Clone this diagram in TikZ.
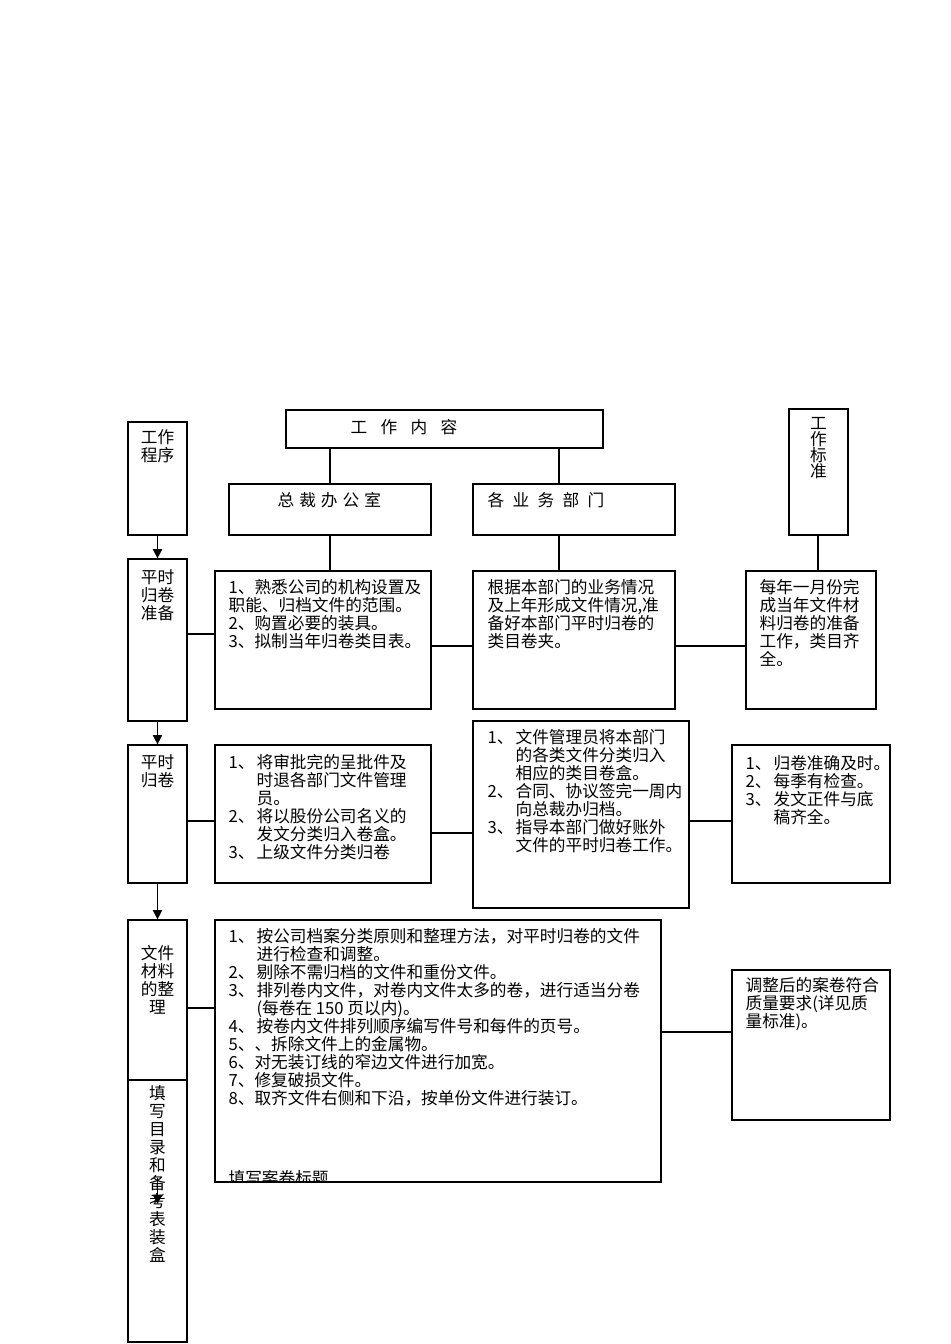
\documentclass[tikz,border=0pt]{standalone}
\usepackage{fontspec}
\setmainfont{Noto Sans CJK SC}
\usetikzlibrary{arrows.meta,fit}
\tikzset{frame/.style={draw,line width=0.9pt,inner sep=0pt}}
\tikzset{txt/.style={anchor=north west,inner sep=0pt,align=left,font=\fontsize{12.5pt}{13.5pt}\selectfont}}
\tikzset{vtxt/.style={anchor=north,inner sep=0pt,align=center,font=\fontsize{12.5pt}{13.5pt}\selectfont}}
\tikzset{flow/.style={line width=0.9pt,-{Triangle[length=7pt,width=7pt]}}}
\newcommand{\num}[1]{\makebox[21pt][l]{#1}}
\newcommand{\ind}{\hspace*{21pt}}

\begin{document}
\begin{tikzpicture}[x=0.75pt,y=-0.75pt,line width=0.9pt]
	\useasboundingbox (0,0) rectangle (950,1344);
	% boxes
	\node[frame,fit={(128,422) (187,535)}] (proc) {};
	\node[frame,fit={(286,410) (603,448)}] (content) {};
	\node[frame,fit={(229,484) (431,535)}] (office) {};
	\node[frame,fit={(473,484) (675,535)}] (dept) {};
	\node[frame,fit={(789,409) (848,535)}] (std) {};
	\node[frame,fit={(128,559) (187,721)}] (prep) {};
	\node[frame,fit={(215,571) (431,709)}] (a1) {};
	\node[frame,fit={(473,571) (675,709)}] (b1) {};
	\node[frame,fit={(746,571) (876,709)}] (c1) {};
	\node[frame,fit={(128,745) (187,883)}] (reg) {};
	\node[frame,fit={(215,745) (431,883)}] (a2) {};
	\node[frame,fit={(473,721) (689,908)}] (b2) {};
	\node[frame,fit={(732,745) (890,883)}] (c2) {};
	\node[frame,fit={(128,920) (187,1080)}] (sort) {};
	\node[frame,fit={(128,1080) (187,1342)}] (fill) {};
	\node[frame,fit={(215,920) (661,1182)}] (d3) {};
	\node[frame,fit={(732,970) (890,1120)}] (e3) {};
	% texts
	\node[vtxt] (proct) at (157.5,429) {工作\\程序};
	\node[txt] (contentt) at (350,419) {工\hspace{0.8em}作\hspace{0.8em}内\hspace{0.8em}容};
	\node[txt] (officet) at (277,492) {总\hspace{0.3em}裁\hspace{0.3em}办\hspace{0.3em}公\hspace{0.3em}室};
	\node[txt] (deptt) at (487,492) {各\hspace{0.5em}业\hspace{0.5em}务\hspace{0.5em}部\hspace{0.5em}门};
	\node[vtxt,font=\fontsize{12.5pt}{12pt}\selectfont] (stdt) at (818.5,417) {工\\作\\标\\准};
	\node[vtxt] (prept) at (157.5,569) {平时\\归卷\\准备};
	\node[txt] (a1t) at (228,579) {1、熟悉公司的机构设置及\\职能、归档文件的范围。\\2、购置必要的装具。\\3、拟制当年归卷类目表。};
	\node[txt] (b1t) at (487,579) {根据本部门的业务情况\\及上年形成文件情况,准\\备好本部门平时归卷的\\类目卷夹。};
	\node[txt] (c1t) at (759,579) {每年一月份完\\成当年文件材\\料归卷的准备\\工作，类目齐\\全。};
	\node[vtxt] (regt) at (157.5,754) {平时\\归卷};
	\node[txt] (a2t) at (228,754) {\num{1、}将审批完的呈批件及\\\ind 时退各部门文件管理\\\ind 员。\\\num{2、}将以股份公司名义的\\\ind 发文分类归入卷盒。\\\num{3、}上级文件分类归卷};
	\node[txt] (b2t) at (487,729) {\num{1、}文件管理员将本部门\\\ind 的各类文件分类归入\\\ind 相应的类目卷盒。\\\num{2、}合同、协议签完一周内\\\ind 向总裁办归档。\\\num{3、}指导本部门做好账外\\\ind 文件的平时归卷工作。};
	\node[txt] (c2t) at (745,755) {\num{1、}归卷准确及时。\\\num{2、}每季有检查。\\\num{3、}发文正件与底\\\ind 稿齐全。};
	\node[vtxt] (sortt) at (157.5,945) {文件\\材料\\的整\\理};
	\node[vtxt] (fillt) at (157.5,1085) {填\\写\\目\\录\\和\\备\\考\\表\\装\\盒};
	\node[txt] (d3t) at (228,928) {\num{1、}按公司档案分类原则和整理方法，对平时归卷的文件\\\ind 进行检查和调整。\\\num{2、}剔除不需归档的文件和重份文件。\\\num{3、}排列卷内文件，对卷内文件太多的卷，进行适当分卷\\\ind (每卷在 150 页以内)。\\\num{4、}按卷内文件排列顺序编写件号和每件的页号。\\5、、拆除文件上的金属物。\\6、对无装订线的窄边文件进行加宽。\\7、修复破损文件。\\8、取齐文件右侧和下沿，按单份文件进行装订。};
	\begin{scope}
		\clip (d3.north west) rectangle (d3.south east);
		\node[txt] (titlet) at (228,1170) {填写案卷标题};
	\end{scope}
	\node[txt] (e3t) at (745,977) {调整后的案卷符合\\质量要求(详见质\\量标准)。};
	% connectors
	\draw (office.north) -- (office.north |- content.south);
	\draw (dept.north -| 559,0) -- (content.south -| 559,0);
	\draw (office.south -| 330,0) -- (a1.north -| 330,0);
	\draw (dept.south -| 559,0) -- (b1.north -| 559,0);
	\draw (std.south -| 818,0) -- (c1.north -| 818,0);
	\draw (prep.east |- 0,634) -- (a1.west |- 0,634);
	\draw (a1.east |- 0,646) -- (b1.west |- 0,646);
	\draw (b1.east |- 0,646) -- (c1.west |- 0,646);
	\draw (reg.east |- 0,821) -- (a2.west |- 0,821);
	\draw (a2.east |- 0,833) -- (b2.west |- 0,833);
	\draw (b2.east |- 0,821) -- (c2.west |- 0,821);
	\draw (sort.east |- 0,1008) -- (d3.west |- 0,1008);
	\draw (d3.east |- 0,1032) -- (e3.west |- 0,1032);
	\draw[flow] (proc) -- (prep);
	\draw[flow] (prep) -- (reg);
	\draw[flow] (reg) -- (sort);
	\coordinate (fa) at (157.5,1178);
	\coordinate (fb) at (157.5,1204);
	\draw[flow] (fa) -- (fb);
\end{tikzpicture}
\end{document}
